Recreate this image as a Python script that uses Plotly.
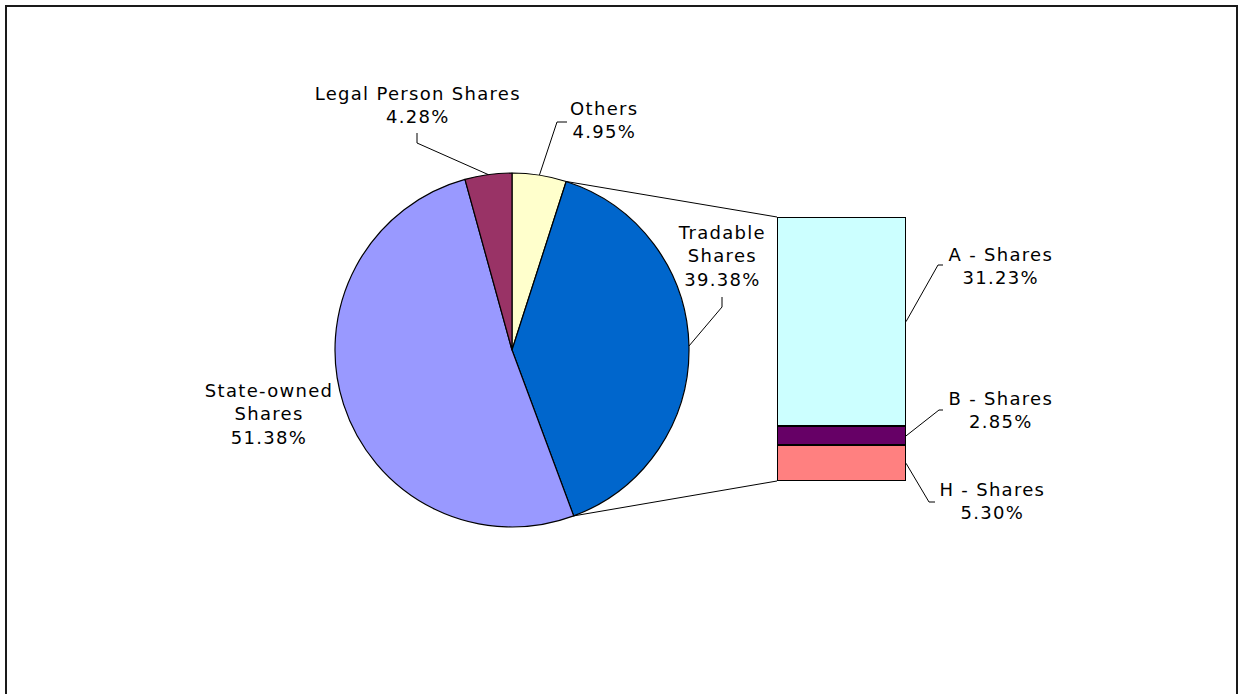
import math
import plotly.graph_objects as go

# ---- data ----
pie_labels = ["Others", "Tradable Shares", "State-owned Shares", "Legal Person Shares"]
pie_values = [4.95, 39.38, 51.38, 4.28]
pie_colors = ["#FFFFCC", "#0066CC", "#9999FF", "#993366"]

bar_labels = ["H - Shares", "B - Shares", "A - Shares"]  # bottom to top
bar_values = [5.30, 2.85, 31.23]
bar_colors = ["#FF8080", "#660066", "#CCFFFF"]

# ---- layout constants (pixels) ----
W, H = 1238, 694
CX, CY, R = 512, 350, 177
BX0, BX1, BT, BB = 777, 906, 217, 481
FONT = dict(family="DejaVu Sans", size=18, color="#000000")


def px(x):
    return x / W


def py(y):
    return 1 - y / H


total = sum(pie_values)


def pie_point(frac):
    a = 2 * math.pi * frac
    return CX + R * math.sin(a), CY - R * math.cos(a)


cum = [0]
for v in pie_values:
    cum.append(cum[-1] + v)
mid_frac = [(cum[i] + pie_values[i] / 2) / total for i in range(len(pie_values))]

bar_total = sum(bar_values)
bcum = [0]
for v in bar_values:
    bcum.append(bcum[-1] + v)
bar_mid_y = [BB - (bcum[i] + bar_values[i] / 2) / bar_total * (BB - BT) for i in range(len(bar_values))]

fig = go.Figure()
fig.add_trace(go.Pie(
    labels=pie_labels, values=pie_values, sort=False, direction="clockwise", rotation=0,
    marker=dict(colors=pie_colors, line=dict(color="#000000", width=1.2)),
    textinfo="none", hoverinfo="skip", showlegend=False,
    domain=dict(x=[px(CX - R), px(CX + R)], y=[py(CY + R), py(CY - R)]),
))
for lab, val, col in zip(bar_labels, bar_values, bar_colors):
    fig.add_trace(go.Bar(
        x=[0], y=[val], width=1, name=lab, marker=dict(color=col, line=dict(color="#000000", width=2)),
        showlegend=False, hoverinfo="skip", xaxis="x", yaxis="y",
    ))

shapes = []


def seg(p, q, color="#000000", width=1):
    shapes.append(dict(type="line", xref="paper", yref="paper", x0=px(p[0]), y0=py(p[1]),
                       x1=px(q[0]), y1=py(q[1]), line=dict(color=color, width=width)))


# connectors from pie to bar
seg(pie_point(cum[1] / total), (BX0, BT))
seg(pie_point(cum[2] / total), (BX0, BB))

# leader lines
lp = pie_point(mid_frac[3])
seg((417, 133), (417, 143)); seg((417, 143), lp)
op = pie_point(mid_frac[0])
seg((567, 122), (557, 122)); seg((557, 122), op)
tp = pie_point(mid_frac[1])
seg((722, 297), (722, 307)); seg((722, 307), tp)
seg((943, 265), (938, 265)); seg((938, 265), (BX1, bar_mid_y[2]))
seg((943, 410), (939, 410)); seg((939, 410), (BX1, bar_mid_y[1]))
seg((BX1, bar_mid_y[0]), (929, 502)); seg((929, 502), (935, 502))

# chart border
shapes.append(dict(type="rect", xref="paper", yref="paper", x0=px(6), y0=py(720), x1=px(1237), y1=py(6),
                   line=dict(color="#1a1a1a", width=2)))


def fmt(v):
    return f"{v:.2f}%"


annots = [
    ("Legal Person Shares<br>" + fmt(pie_values[3]), 418, 105),
    ("Others<br>" + fmt(pie_values[0]), 604, 120),
    ("Tradable<br>Shares<br>" + fmt(pie_values[1]), 722, 256),
    ("State-owned<br>Shares<br>" + fmt(pie_values[2]), 269, 414),
    ("A - Shares<br>" + fmt(bar_values[2]), 1001, 266),
    ("B - Shares<br>" + fmt(bar_values[1]), 1001, 410),
    ("H - Shares<br>" + fmt(bar_values[0]), 992, 501),
]
annotations = [dict(text=t, x=px(x), y=py(y), xref="paper", yref="paper", showarrow=False,
                    xanchor="center", yanchor="middle", align="center", font=FONT)
               for t, x, y in annots]

fig.update_layout(
    width=W, height=H, margin=dict(l=0, r=0, t=0, b=0), autosize=False,
    paper_bgcolor="#FFFFFF", plot_bgcolor="rgba(0,0,0,0)",
    barmode="stack", bargap=0,
    xaxis=dict(domain=[px(BX0), px(BX1)], range=[-0.5, 0.5], visible=False, fixedrange=True),
    yaxis=dict(domain=[py(BB), py(BT)], range=[0, bar_total], visible=False, fixedrange=True),
    shapes=shapes, annotations=annotations, hovermode=False, font=FONT,
)

post = (
    "document.body.style.margin='0';document.body.style.overflow='hidden';"
    "document.querySelectorAll('text.annotation-text').forEach(function(e){e.style.letterSpacing='1.3px';});"
)
fig.write_html("out.html", config={"displayModeBar": False}, post_script=post)
